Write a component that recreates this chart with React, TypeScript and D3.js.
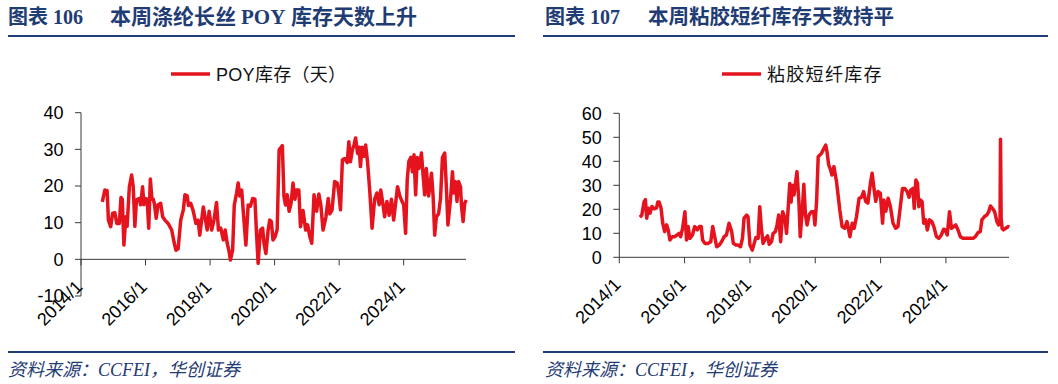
import React from "react";
import * as d3 from "d3";

// ---------- data (decimal year, value) ----------
const poyTimes = [
  2014.66, 2014.74, 2014.81, 2014.85, 2014.92, 2014.98, 2015.05, 2015.11, 2015.19, 2015.24,
  2015.28, 2015.33, 2015.39, 2015.43, 2015.5, 2015.57, 2015.62, 2015.67, 2015.72, 2015.8,
  2015.85, 2015.91, 2015.95, 2015.98, 2016.05, 2016.1, 2016.15, 2016.2, 2016.24, 2016.28,
  2016.33, 2016.39, 2016.47, 2016.53, 2016.6, 2016.7, 2016.81, 2016.88, 2016.94, 2017.01,
  2017.09, 2017.17, 2017.22, 2017.29, 2017.33, 2017.4, 2017.48, 2017.56, 2017.63, 2017.68,
  2017.79, 2017.86, 2017.91, 2017.97, 2018.05, 2018.12, 2018.2, 2018.26, 2018.33, 2018.41,
  2018.47, 2018.53, 2018.59, 2018.63, 2018.7, 2018.75, 2018.82, 2018.87, 2018.92, 2018.98,
  2019.05, 2019.11, 2019.18, 2019.25, 2019.32, 2019.39, 2019.44, 2019.49, 2019.56, 2019.63,
  2019.67, 2019.73, 2019.8, 2019.85, 2019.9, 2019.95, 2020.02, 2020.08, 2020.14, 2020.24,
  2020.29, 2020.34, 2020.39, 2020.45, 2020.51, 2020.57, 2020.63, 2020.68, 2020.75, 2020.8,
  2020.88, 2020.96, 2021.02, 2021.09, 2021.15, 2021.22, 2021.3, 2021.37, 2021.43, 2021.5,
  2021.59, 2021.66, 2021.71, 2021.78, 2021.86, 2021.94, 2021.99, 2022.04, 2022.1, 2022.17,
  2022.25, 2022.3, 2022.35, 2022.41, 2022.46, 2022.51, 2022.57, 2022.62, 2022.66, 2022.71,
  2022.77, 2022.82, 2022.88, 2022.95, 2023.02, 2023.1, 2023.17, 2023.24, 2023.29, 2023.36,
  2023.41, 2023.48, 2023.55, 2023.62, 2023.69, 2023.75, 2023.81, 2023.88, 2023.93, 2024.0,
  2024.06, 2024.11, 2024.16, 2024.22, 2024.27, 2024.32, 2024.37, 2024.42, 2024.47, 2024.55,
  2024.6, 2024.65, 2024.7, 2024.77, 2024.86, 2024.91, 2024.96, 2025.01, 2025.08, 2025.14,
  2025.2, 2025.27, 2025.32, 2025.37, 2025.45, 2025.51, 2025.55, 2025.6, 2025.65, 2025.7,
  2025.76, 2025.79, 2025.84, 2025.89, 2025.94,
];
const poyValues = [
  15.7, 18.9, 18.7, 10.7, 8.9, 12.6, 12.7, 9.8, 9.8, 16.9,
  16.4, 3.9, 11.6, 9, 19.8, 23, 19.8, 9, 16.2, 16.6,
  14.9, 19.8, 14.9, 16.6, 16.4, 8.5, 21.9, 16.4, 16.4, 14.9,
  11.2, 14.9, 15.3, 11.6, 10.7, 9.8, 8, 4.8, 2.5, 2.9,
  10.7, 13.5, 17.6, 17.3, 14.7, 15.3, 13.1, 9.8, 10.7, 6.6,
  14.3, 10.7, 8, 13.1, 8, 10.7, 15.5, 8, 8.5, 5.3,
  8, 4.4, 2.1, -0.2, 2.6, 14.8, 18, 20.8, 17.3, 18.9,
  10.7, 3.9, 14.8, 14.5, 16.6, 16.4, 7.1, -1.1, 8, 8.5,
  4.4, 1.6, 8, 10.7, 10.3, 5.3, 6.2, 8.2, 29.9, 31,
  17.1, 14.8, 17.6, 13.1, 15.3, 20.8, 16.4, 18.9, 18.9, 8.9,
  13.3, 8, 9.4, 6.2, 4.4, 17.6, 13.1, 17.8, 14.9, 8,
  11.6, 16.6, 12.4, 13.5, 21.2, 20.8, 18.1, 13.5, 27.1, 27.5,
  26.4, 32.1, 26.6, 29.9, 31.2, 33.1, 28.9, 30.6, 25.3, 30.6,
  28.1, 31.2, 26.6, 18.5, 8.5, 16.4, 18.1, 14.9, 18.9, 14.9,
  11.6, 15.8, 12, 16.4, 10.7, 15.3, 19.8, 17.3, 16.2, 14.9,
  7.1, 21.7, 26.7, 27.8, 23.9, 28.5, 17.6, 27.8, 24.8, 29,
  23, 17.6, 24.8, 17.3, 23.5, 17.3, 6.6, 11.6, 12.4, 16.6,
  27.8, 29, 19.8, 9.4, 16.4, 23.9, 18.1, 21.2, 15.8, 21.2,
  19.8, 14.5, 10.3, 15.3, 16.2,
];

const viscoseTimes = [
  2014.63, 2014.69, 2014.76, 2014.8, 2014.84, 2014.89, 2014.94, 2015.0, 2015.07, 2015.14,
  2015.18, 2015.22, 2015.28, 2015.33, 2015.39, 2015.45, 2015.5, 2015.55, 2015.62, 2015.7,
  2015.77, 2015.83, 2015.88, 2015.94, 2016.01, 2016.06, 2016.11, 2016.16, 2016.24, 2016.31,
  2016.39, 2016.45, 2016.51, 2016.55, 2016.62, 2016.72, 2016.8, 2016.86, 2016.91, 2016.98,
  2017.06, 2017.13, 2017.21, 2017.28, 2017.36, 2017.44, 2017.49, 2017.57, 2017.64, 2017.71,
  2017.77, 2017.82, 2017.9, 2017.94, 2018.0, 2018.07, 2018.13, 2018.18, 2018.25, 2018.3,
  2018.35, 2018.4, 2018.48, 2018.54, 2018.59, 2018.66, 2018.71, 2018.78, 2018.83, 2018.88,
  2018.94, 2019.0, 2019.07, 2019.12, 2019.17, 2019.22, 2019.26, 2019.3, 2019.35, 2019.4,
  2019.44, 2019.5, 2019.54, 2019.6, 2019.65, 2019.7, 2019.75, 2019.81, 2019.88, 2019.95,
  2019.99, 2020.04, 2020.09, 2020.19, 2020.24, 2020.32, 2020.36, 2020.41, 2020.47, 2020.51,
  2020.57, 2020.65, 2020.75, 2020.82, 2020.9, 2020.97, 2021.06, 2021.13, 2021.19, 2021.26,
  2021.34, 2021.41, 2021.48, 2021.54, 2021.61, 2021.69, 2021.74, 2021.79, 2021.85, 2021.92,
  2021.99, 2022.06, 2022.1, 2022.16, 2022.23, 2022.3, 2022.38, 2022.46, 2022.53, 2022.58,
  2022.67, 2022.74, 2022.81, 2022.87, 2022.92, 2022.99, 2023.03, 2023.08, 2023.13, 2023.17,
  2023.22, 2023.27, 2023.32, 2023.38, 2023.43, 2023.5, 2023.57, 2023.63, 2023.71, 2023.78,
  2023.86, 2023.93, 2023.98, 2024.04, 2024.11, 2024.17, 2024.24, 2024.3, 2024.37, 2024.44,
  2024.52, 2024.62, 2024.72, 2024.83, 2024.9, 2024.98, 2025.05, 2025.1, 2025.18, 2025.25,
  2025.31, 2025.36, 2025.42, 2025.49, 2025.56, 2025.61, 2025.655, 2025.67, 2025.69, 2025.72,
  2025.76, 2025.83, 2025.9, 2025.94,
];
const viscoseValues = [
  16.7, 17.6, 23.2, 24, 16.3, 20.4, 18.4, 21.2, 20.2, 20.6,
  23, 23, 20.4, 14.2, 10.7, 13.5, 11.4, 7.2, 8.6, 8.6,
  9.3, 10, 8.6, 12.1, 19, 7.2, 12.8, 7.9, 9.3, 12.8,
  11.4, 12.8, 12.8, 7.2, 5.8, 5.8, 6.5, 12.8, 9.3, 4.4,
  5.1, 6.5, 8.6, 9.3, 14.2, 10.7, 5.8, 5.1, 5.1, 4.4,
  7.9, 16.3, 17.6, 16.9, 5.1, 3, 5.8, 8.2, 7.9, 21.1,
  12.1, 5.8, 7.9, 8.9, 5.4, 6.5, 10, 10.7, 13.5, 17.6,
  6.5, 19, 16.3, 10, 20.4, 30.8, 23, 30, 26, 31.5,
  35.7, 23, 8.6, 19, 30.4, 17.6, 13.5, 17.6, 19, 19,
  13.5, 23, 41.9, 43.3, 44.7, 46.8, 44, 38.5, 36.4, 34.3,
  37.8, 31.5, 19.7, 12.8, 12.1, 14.9, 8.6, 14.2, 12.1, 16.9,
  24.6, 25, 27.4, 23.3, 22.6, 31.1, 35, 29.4, 23.3, 27.4,
  26.7, 14.2, 23.9, 19.2, 24.6, 21.1, 14.2, 12.1, 12.8, 18.3,
  28.7, 28.7, 27.4, 25, 28, 28.7, 20.4, 32.2, 30.8, 21.1,
  23.9, 23.2, 14.2, 15.6, 11.4, 15.6, 14.9, 12.8, 8.6, 7.9,
  9.3, 11.7, 11.4, 9.3, 19, 12.1, 12.8, 13.5, 11.4, 8.6,
  7.9, 7.9, 7.9, 7.9, 8.6, 10.3, 10.7, 15.6, 17, 17.6,
  19, 21.4, 20.4, 19, 14.9, 13.5, 14.2, 49.2, 16, 12,
  11.4, 12.1, 12.8, 12.5,
];

const yTicksLeft = [-10, 0, 10, 20, 30, 40];
const yTicksRight = [0, 10, 20, 30, 40, 50, 60];
const xTickYears = [2014, 2016, 2018, 2020, 2022, 2024];
const xDomainYears = [2014, 2025.93];

const titleLeftNum = "图表 106";
const titleLeftParts = ["本周涤纶长丝", "POY", "库存天数上升"];
const titleRightNum = "图表 107";
const titleRightText = "本周粘胶短纤库存天数持平";
const legendLeft = "POY库存（天）";
const legendRight = "粘胶短纤库存";
const sourceText = "资料来源：CCFEI，华创证券";

// ---------- helpers ----------
function yearToDate(t: number): Date {
  const y = Math.floor(t);
  const s = new Date(y, 0, 1).getTime();
  const e = new Date(y + 1, 0, 1).getTime();
  return new Date(s + (t - y) * (e - s));
}

const RED = "#E5131D";
const BLUE = "#1F3C74";
const AXIS = "#3a3a3a";
const FONT = "'Liberation Sans', Arial, 'Noto Sans CJK SC', sans-serif";
const TITLE_FONT = "'Liberation Serif', 'Noto Sans CJK SC', serif";
const fmt = d3.timeFormat("%Y/%-m");

type PanelProps = {
  times: number[];
  values: number[];
  yTicks: number[];
  x0: number;
  x1: number;
  yTop: number;
  yBottom: number;
  legend: string;
  legendX: number;
  legendSpacing: number;
};

function Panel({ times, values, yTicks, x0, x1, yTop, yBottom, legend, legendX, legendSpacing }: PanelProps) {
  const x = d3
    .scaleTime()
    .domain(xDomainYears.map(yearToDate))
    .range([x0, x1]);
  const y = d3
    .scaleLinear()
    .domain([yTicks[0], yTicks[yTicks.length - 1]])
    .range([yBottom, yTop]);
  const pts: [Date, number][] = times.map((t, i) => [yearToDate(t), values[i]]);
  const line = d3
    .line<[Date, number]>()
    .x((d) => x(d[0]))
    .y((d) => y(d[1]));
  const zeroY = y(0);
  const ticksX = xTickYears.map((yy) => new Date(yy, 0, 1));
  return (
    <g>
      {/* legend */}
      <line x1={legendX} x2={legendX + 39} y1={74} y2={74} stroke={RED} strokeWidth={3.5} />
      <text
        x={legendX + 45}
        y={80.5}
        fontSize={18}
        fontFamily={FONT}
        fill="#111"
        letterSpacing={legendSpacing}
      >
        {legend}
      </text>
      {/* y axis */}
      <line x1={x0} x2={x0} y1={yTop} y2={yBottom} stroke={AXIS} strokeWidth={1} />
      {yTicks.map((t) => (
        <g key={t}>
          <line x1={x0 - 6} x2={x0} y1={y(t)} y2={y(t)} stroke={AXIS} strokeWidth={1} />
          <text
            x={x0 - 17.5}
            y={y(t)}
            dy="0.35em"
            textAnchor="end"
            fontSize={18}
            fontFamily={FONT}
            fill="#000"
          >
            {t}
          </text>
        </g>
      ))}
      {/* x axis */}
      <line x1={x0} x2={x1} y1={zeroY} y2={zeroY} stroke={AXIS} strokeWidth={1} />
      {ticksX.map((d) => (
        <g key={+d}>
          <line x1={x(d)} x2={x(d)} y1={zeroY} y2={zeroY + 6} stroke={AXIS} strokeWidth={1} />
          <text
            transform={`translate(${x(d) - 2},${zeroY + 24}) rotate(-45)`}
            dy="0.35em"
            textAnchor="end"
            fontSize={18}
            fontFamily={FONT}
            fill="#000"
          >
            {fmt(d)}
          </text>
        </g>
      ))}
      {/* series */}
      <path d={line(pts) || ""} fill="none" stroke={RED} strokeWidth={3.5} strokeLinejoin="round" />
    </g>
  );
}

export default function App() {
  return (
    <svg
      width={1058}
      height={384}
      style={{ position: "absolute", left: 0, top: 0, display: "block", background: "#fff" }}
    >
      {/* titles */}
      <text x={8} y={24} fontSize={20} fontWeight="bold" fontFamily={TITLE_FONT} fill={BLUE}>
        {titleLeftNum}
      </text>
      <text y={24} fontSize={21} fontWeight="bold" fontFamily={TITLE_FONT} fill={BLUE}>
        <tspan x={110}>{titleLeftParts[0]}</tspan>
        <tspan x={241}>{titleLeftParts[1]}</tspan>
        <tspan x={291}>{titleLeftParts[2]}</tspan>
      </text>
      <text x={545} y={24} fontSize={20} fontWeight="bold" fontFamily={TITLE_FONT} fill={BLUE}>
        {titleRightNum}
      </text>
      <text
        x={648}
        y={24}
        fontSize={20.5}
        fontWeight="bold"
        fontFamily={TITLE_FONT}
        fill={BLUE}
      >
        {titleRightText}
      </text>
      <line x1={8} x2={515} y1={36} y2={36} stroke={BLUE} strokeWidth={2} />
      <line x1={543} x2={1048} y1={36} y2={36} stroke={BLUE} strokeWidth={2} />

      <Panel
        times={poyTimes}
        values={poyValues}
        yTicks={yTicksLeft}
        x0={81}
        x1={466}
        yTop={112.7}
        yBottom={296}
        legend={legendLeft}
        legendX={171}
        legendSpacing={0.3}
      />
      <Panel
        times={viscoseTimes}
        values={viscoseValues}
        yTicks={yTicksRight}
        x0={619.3}
        x1={1009}
        yTop={113.3}
        yBottom={257.3}
        legend={legendRight}
        legendX={722}
        legendSpacing={1.3}
      />

      {/* footer */}
      <line x1={8} x2={515} y1={352} y2={352} stroke={BLUE} strokeWidth={2} />
      <line x1={543} x2={1048} y1={352} y2={352} stroke={BLUE} strokeWidth={2} />
      <text x={8} y={376} fontSize={18} fontStyle="italic" fontFamily={TITLE_FONT} fill={BLUE}>
        {sourceText}
      </text>
      <text x={545} y={376} fontSize={18} fontStyle="italic" fontFamily={TITLE_FONT} fill={BLUE}>
        {sourceText}
      </text>
    </svg>
  );
}
